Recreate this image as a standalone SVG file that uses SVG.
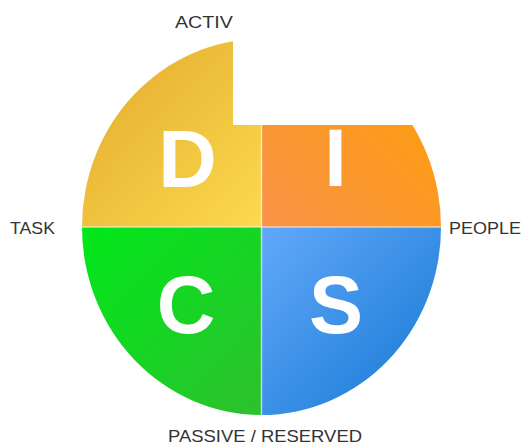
<svg xmlns="http://www.w3.org/2000/svg" width="522" height="447" viewBox="0 0 522 447">
<defs>
<linearGradient id="gD" x1="0" y1="0" x2="1" y2="1"><stop offset="0" stop-color="#e2a92c"/><stop offset="1" stop-color="#fcda4e"/></linearGradient>
<linearGradient id="gI" x1="0" y1="1" x2="1" y2="0"><stop offset="0" stop-color="#f8924a"/><stop offset="1" stop-color="#ffa000"/></linearGradient>
<linearGradient id="gC" x1="0" y1="0" x2="1" y2="1"><stop offset="0" stop-color="#00e81a"/><stop offset="1" stop-color="#2ec02e"/></linearGradient>
<linearGradient id="gS" x1="0" y1="0" x2="1" y2="1"><stop offset="0" stop-color="#62a8fa"/><stop offset="1" stop-color="#1478d2"/></linearGradient>
<style>
.lbl{font-family:"Liberation Sans",Arial,sans-serif;font-size:17px;fill:#333}
.big{font-family:"Liberation Sans",Arial,sans-serif;font-weight:bold;font-size:81px;fill:#fff;text-anchor:middle}
.div{stroke:#fff;stroke-opacity:0.6;stroke-width:1.5}
</style>
</defs>
<g id="label-active"><text class="lbl" x="175" y="28" font-size="18" textLength="71" lengthAdjust="spacingAndGlyphs">ACTIVE</text></g>
<g id="quad-D"><path d="M261.5,227 L82,227 A179.5,188 0 0 1 261.5,39 Z" fill="url(#gD)"/><text class="big" x="187.5" y="187">D</text></g>
<g id="quad-I"><path d="M261.5,227 L261.5,39 A179.5,188 0 0 1 441,227 Z" fill="url(#gI)"/></g>
<g id="quad-S"><path d="M261.5,227 L441,227 A179.5,188 0 0 1 261.5,415 Z" fill="url(#gS)"/><text class="big" x="336" y="333">S</text></g>
<g id="quad-C"><path d="M261.5,227 L261.5,415 A179.5,188 0 0 1 82,227 Z" fill="url(#gC)"/><text class="big" x="186" y="333">C</text></g>
<rect x="233" y="0" width="289" height="125" fill="#fff"/>
<g id="quad-I-letter"><text class="big" x="335.5" y="186">I</text></g>
<g id="dividers"><line class="div" x1="261.5" y1="125" x2="261.5" y2="415"/><line class="div" x1="82" y1="227" x2="441" y2="227"/></g>
<g id="label-task"><text class="lbl" x="10" y="234" textLength="45" lengthAdjust="spacingAndGlyphs">TASK</text></g>
<g id="label-people"><text class="lbl" x="449" y="234" textLength="72" lengthAdjust="spacingAndGlyphs">PEOPLE</text></g>
<g id="label-passive"><text class="lbl" x="168" y="442" textLength="194" lengthAdjust="spacingAndGlyphs">PASSIVE / RESERVED</text></g>
</svg>
